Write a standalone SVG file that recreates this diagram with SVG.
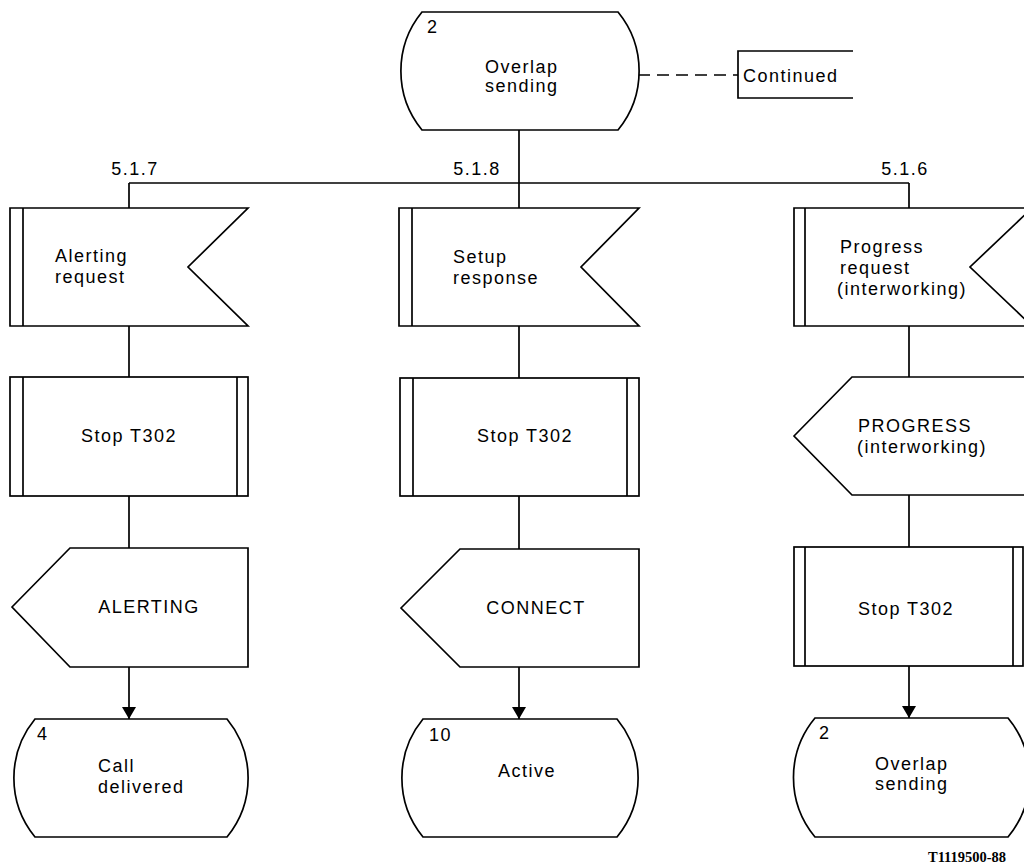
<svg xmlns="http://www.w3.org/2000/svg" width="1024" height="868" viewBox="0 0 1024 868">
<defs>
<style>
.s{fill:#fff;stroke:#000;stroke-width:1.7;stroke-linejoin:miter}
.l{fill:none;stroke:#000;stroke-width:1.7}
.d{fill:none;stroke:#000;stroke-width:1.5;stroke-dasharray:12 7}
text{font-family:"Liberation Sans",Arial,sans-serif;font-size:18px;letter-spacing:1.5px;fill:#000}
.c{text-anchor:middle}
</style>
<marker id="arr" viewBox="0 0 12 14" refX="12" refY="7" markerWidth="12" markerHeight="14" markerUnits="userSpaceOnUse" orient="auto">
<path d="M0,0 L12,7 L0,14 Z" fill="#000"/>
</marker>
</defs>

<g id="connectors">
<line class="l" x1="519" y1="130" x2="519" y2="183"/>
<line class="l" x1="129" y1="183" x2="909" y2="183"/>
<line class="l" x1="129" y1="183" x2="129" y2="208"/>
<line class="l" x1="519" y1="183" x2="519" y2="208"/>
<line class="l" x1="909" y1="183" x2="909" y2="208"/>
<line class="l" x1="129" y1="326" x2="129" y2="377"/>
<line class="l" x1="129" y1="496" x2="129" y2="548"/>
<line class="l" x1="129" y1="667" x2="129" y2="719" marker-end="url(#arr)"/>
<line class="l" x1="519" y1="326" x2="519" y2="378"/>
<line class="l" x1="519" y1="496" x2="519" y2="549"/>
<line class="l" x1="519" y1="667" x2="519" y2="719" marker-end="url(#arr)"/>
<line class="l" x1="909" y1="326" x2="909" y2="377"/>
<line class="l" x1="909" y1="495" x2="909" y2="547"/>
<line class="l" x1="909" y1="666" x2="909" y2="718" marker-end="url(#arr)"/>
<line class="d" x1="638" y1="75" x2="738" y2="75"/>
<text x="135" y="175" class="c">5.1.7</text>
<text x="477" y="175" class="c">5.1.8</text>
<text x="905" y="175" class="c">5.1.6</text>
</g>

<g id="state-top">
<path class="s" d="M422,12 L618,12 A93,93 0 0 1 618,130 L422,130 A93,93 0 0 1 422,12 Z"/>
<text x="427" y="33">2</text>
<text x="485" y="73">Overlap</text>
<text x="485" y="92">sending</text>
</g>

<g id="continued">
<path class="l" d="M853,51 L738,51 L738,98 L853,98"/>
<text x="743" y="82">Continued</text>
</g>

<g id="input-alerting">
<path class="s" d="M10,208 L248,208 L188,267 L248,326 L10,326 Z"/>
<line class="l" x1="23" y1="208" x2="23" y2="326"/>
<text x="55" y="262">Alerting</text>
<text x="55" y="283">request</text>
</g>

<g id="input-setup">
<path class="s" d="M399,208 L639,208 L581,267 L639,326 L399,326 Z"/>
<line class="l" x1="412" y1="208" x2="412" y2="326"/>
<text x="453" y="263">Setup</text>
<text x="453" y="284">response</text>
</g>

<g id="input-progress">
<path class="s" d="M794,208 L1032,208 L970,267 L1032,326 L794,326 Z"/>
<line class="l" x1="805" y1="208" x2="805" y2="326"/>
<text x="840" y="253">Progress</text>
<text x="840" y="274">request</text>
<text x="837" y="295">(interworking)</text>
</g>

<g id="stop-left">
<rect class="s" x="10" y="377" width="238" height="119"/>
<line class="l" x1="23" y1="377" x2="23" y2="496"/>
<line class="l" x1="237" y1="377" x2="237" y2="496"/>
<text x="129" y="442" class="c">Stop T302</text>
</g>

<g id="stop-middle">
<rect class="s" x="400" y="378" width="239" height="118"/>
<line class="l" x1="413" y1="378" x2="413" y2="496"/>
<line class="l" x1="627" y1="378" x2="627" y2="496"/>
<text x="525" y="442" class="c">Stop T302</text>
</g>

<g id="output-progress">
<path class="s" d="M794,436 L852,377 L1032,377 L1032,495 L852,495 Z"/>
<text x="858" y="432">PROGRESS</text>
<text x="857" y="453">(interworking)</text>
</g>

<g id="output-alerting">
<path class="s" d="M12,607 L70,548 L248,548 L248,667 L70,667 Z"/>
<text x="149" y="613" class="c">ALERTING</text>
</g>

<g id="output-connect">
<path class="s" d="M401,608 L460,549 L639,549 L639,667 L460,667 Z"/>
<text x="536" y="614" class="c">CONNECT</text>
</g>

<g id="stop-right">
<rect class="s" x="794" y="547" width="229" height="119"/>
<line class="l" x1="805" y1="547" x2="805" y2="666"/>
<line class="l" x1="1013" y1="547" x2="1013" y2="666"/>
<text x="906" y="615" class="c">Stop T302</text>
</g>

<g id="state-call-delivered">
<path class="s" d="M35,719 L227,719 A93,93 0 0 1 227,837 L35,837 A93,93 0 0 1 35,719 Z"/>
<text x="37" y="740">4</text>
<text x="98" y="772">Call</text>
<text x="98" y="793">delivered</text>
</g>

<g id="state-active">
<path class="s" d="M423,719 L617,719 A93,93 0 0 1 617,837 L423,837 A93,93 0 0 1 423,719 Z"/>
<text x="429" y="741">10</text>
<text x="527" y="777" class="c">Active</text>
</g>

<g id="state-overlap">
<path class="s" d="M815,718 L1008,718 A93,93 0 0 1 1008,837 L815,837 A93,93 0 0 1 815,718 Z"/>
<text x="819" y="739">2</text>
<text x="875" y="770">Overlap</text>
<text x="875" y="790">sending</text>
</g>

<text x="928" y="862" textLength="78" lengthAdjust="spacingAndGlyphs" style="font-family:'Liberation Serif','Times New Roman',serif;font-size:15px;font-weight:bold;letter-spacing:0">T1119500-88</text>
</svg>
